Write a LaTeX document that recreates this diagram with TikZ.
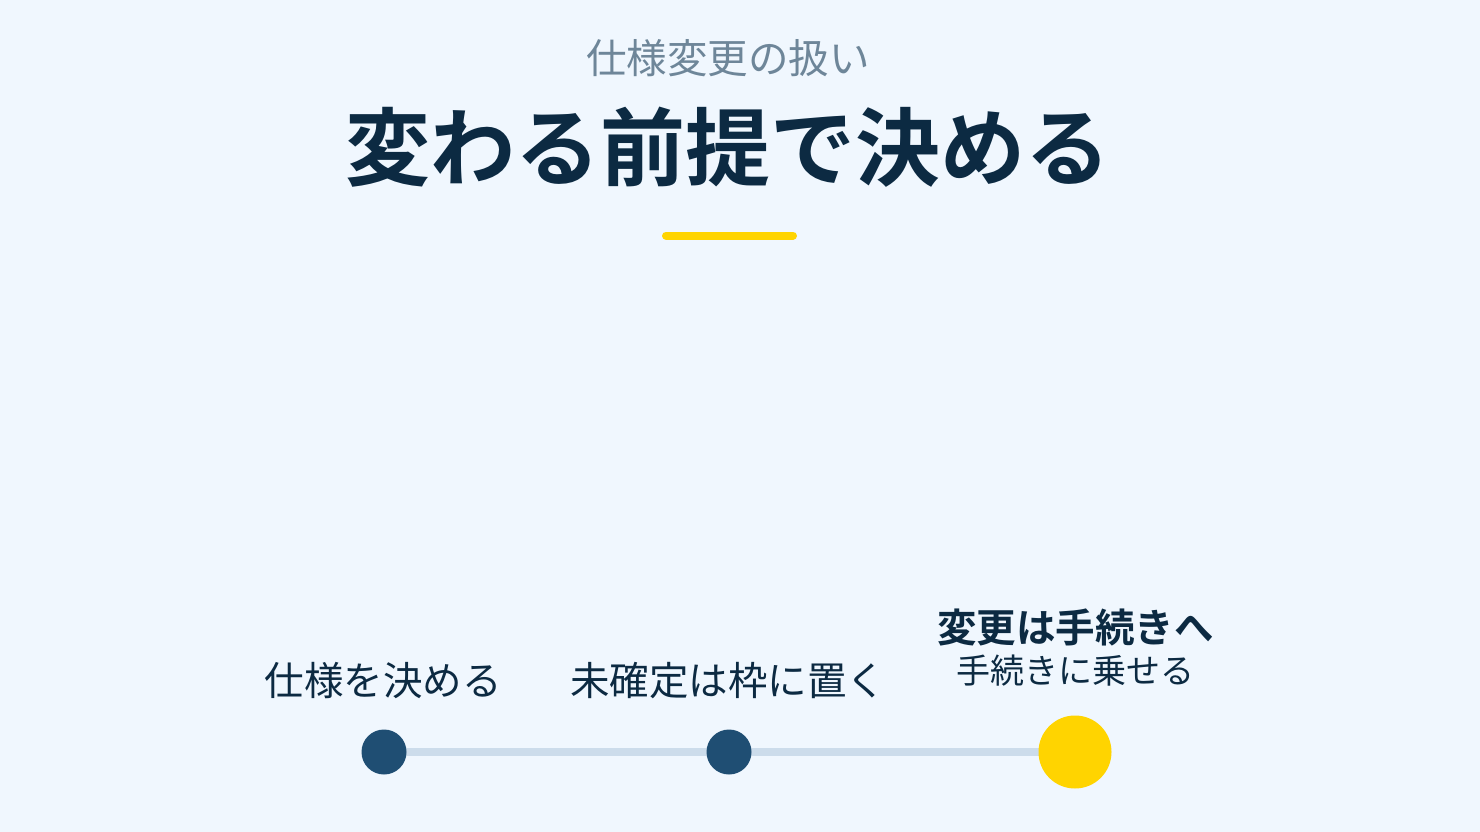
\documentclass[tikz,border=0pt]{standalone}
\usepackage{fontspec}
\newfontfamily\jp{Noto Sans CJK JP}
\newfontfamily\jpb{Noto Sans CJK JP Bold}
\definecolor{bgc}{HTML}{F0F7FE}
\definecolor{ink}{HTML}{0C2A42}
\definecolor{subc}{HTML}{6E8699}
\definecolor{dotc}{HTML}{1F4E73}
\definecolor{linec}{HTML}{CCDCEB}
\definecolor{yel}{HTML}{FFD400}
\tikzset{
  txt/.style={inner sep=0pt, outer sep=0pt, anchor=base, text=ink},
  dot/.style={circle, fill=dotc, minimum size=45pt, inner sep=0pt},
  bigdot/.style={circle, fill=yel, minimum size=73pt, inner sep=0pt},
  rail/.style={draw=linec, line width=8pt}
}
\begin{document}
\begin{tikzpicture}[x=1pt,y=-1pt]
\useasboundingbox[fill=bgc] (0,0) rectangle (1480,832);
% headings
\node[txt, text=subc, font={\jp\fontsize{40.5}{40.5}\selectfont}] (sub) at (728,74) {仕様変更の扱い};
\node[txt, font={\jpb\fontsize{85}{85}\selectfont}] (title) at (727.5,179.5) {変わる前提で決める};
\coordinate (barL) at (666,235.5);
\coordinate (barR) at (793,235.5);
\draw[draw=yel, line width=8pt, line cap=round] (barL) -- (barR);
% timeline
\coordinate (c1) at (384,752);
\coordinate (c2) at (729,752);
\coordinate (c3) at (1075,752);
\draw[rail] (c1) -- (c2) -- (c3);
\node[dot] (d1) at (c1) {};
\node[dot] (d2) at (c2) {};
\node[bigdot] (d3) at (c3) {};
% labels
\node[txt, font={\jp\fontsize{39.5}{39.5}\selectfont}] (l1) at (383,695.5) {仕様を決める};
\node[txt, font={\jp\fontsize{39.5}{39.5}\selectfont}] (l2) at (728,695.5) {未確定は枠に置く};
\node[txt, font={\jpb\fontsize{39.5}{39.5}\selectfont}] (l3) at (1075.5,642.5) {変更は手続きへ};
\node[txt, font={\jp\fontsize{34}{34}\selectfont}] (l4) at (1075,683) {手続きに乗せる};
\end{tikzpicture}
\end{document}
